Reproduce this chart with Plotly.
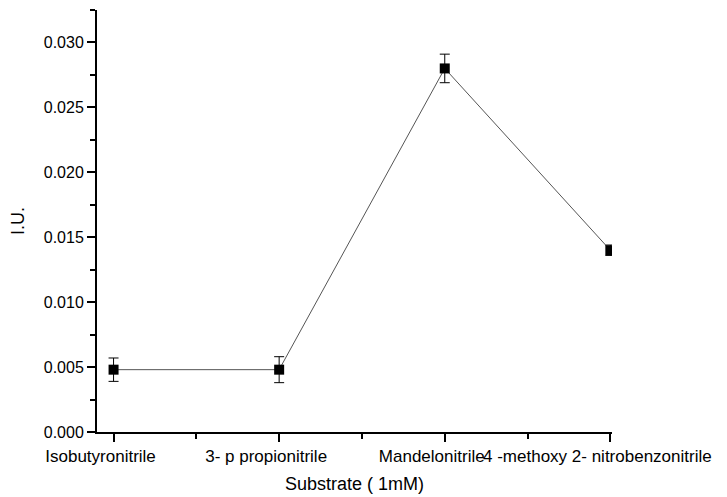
import plotly.graph_objects as go

categories = ["Isobutyronitrile", "3- p propionitrile", "Mandelonitrile", "4 -methoxy 2- nitrobenzonitrile"]
values = [0.0048, 0.0048, 0.0280, 0.0140]
errors = [0.0009, 0.0010, 0.0011, 0.0004]
y_ticks = [0.000, 0.005, 0.010, 0.015, 0.020, 0.025, 0.030]
y_ticklabels = ["0.000", "0.005", "0.010", "0.015", "0.020", "0.025", "0.030"]

xpos = list(range(len(categories)))

fig = go.Figure()
fig.add_trace(go.Scatter(
    x=xpos, y=values,
    mode="lines+markers",
    line=dict(color="#555555", width=1),
    marker=dict(symbol="square", size=10, color="black"),
    error_y=dict(type="data", array=errors, visible=True, color="black", thickness=1, width=5),
    showlegend=False,
))

font_family = "Liberation Sans, Arial, sans-serif"
fig.update_layout(
    width=727, height=497,
    margin=dict(l=97, r=115, t=10, b=65),
    paper_bgcolor="white", plot_bgcolor="white",
    font=dict(family=font_family, color="black"),
    xaxis=dict(
        range=[-0.1, 3.01],
        automargin=False,
        tickmode="array", tickvals=xpos, ticktext=categories,
        ticks="outside", ticklen=8, tickwidth=1.5, tickcolor="black",
        ticklabelshift=-13, tickangle=0,
        minor=dict(tickvals=[0.5, 1.5, 2.5], ticks="outside", ticklen=5, tickwidth=1.5, tickcolor="black"),
        showline=True, linecolor="black", linewidth=2,
        showgrid=False, zeroline=False,
        tickfont=dict(size=17, family=font_family),
        title=dict(text="Substrate ( 1mM)", font=dict(size=18, family=font_family), standoff=12),
    ),
    yaxis=dict(
        range=[0, 0.0325],
        automargin=False,
        tickmode="array", tickvals=y_ticks, ticktext=y_ticklabels,
        ticks="outside", ticklen=8, tickwidth=1.5, tickcolor="black",
        minor=dict(dtick=0.0025, tick0=0, ticks="outside", ticklen=5, tickwidth=1.5, tickcolor="black"),
        showline=True, linecolor="black", linewidth=2,
        showgrid=False, zeroline=False,
        tickfont=dict(size=16, family=font_family),
        title=dict(text="I.U.", font=dict(size=18, family=font_family), standoff=14),
    ),
)

fig.write_html("out.html")
